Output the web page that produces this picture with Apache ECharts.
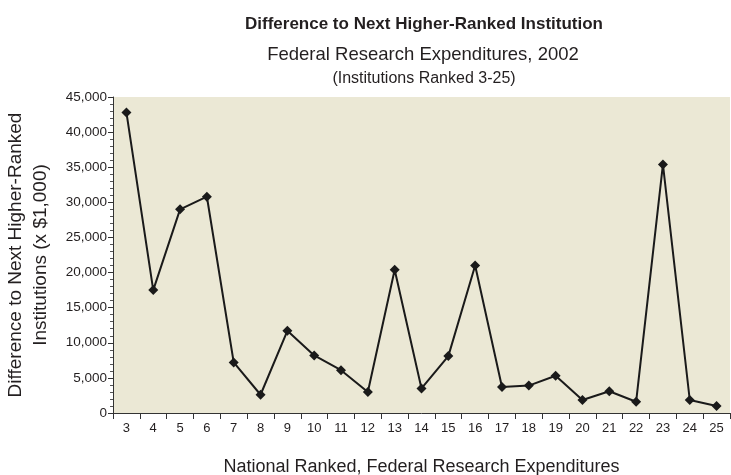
<!DOCTYPE html>
<html>
<head>
<meta charset="utf-8">
<script src="https://cdn.jsdelivr.net/npm/echarts@6/dist/echarts.min.js"></script>
<style>
html,body{margin:0;padding:0;background:#fff;}
#chart{width:731px;height:475px;}
</style>
</head>
<body>
<div id="chart"></div>
<script>
var ranks = ['3','4','5','6','7','8','9','10','11','12','13','14','15','16','17','18','19','20','21','22','23','24','25'];
var differences = [42800, 17500, 29000, 30800, 7200, 2600, 11700, 8200, 6100, 3000, 20400, 3500, 8100, 21000, 3700, 3900, 5300, 1850, 3100, 1600, 35400, 1850, 1000];
var yMin = 0, yMax = 45000, yStep = 5000;

var chart = echarts.init(document.getElementById('chart'), null, {renderer: 'canvas'});
var fontFam = 'Liberation Sans, Arial, sans-serif';
chart.setOption({
  animation: false,
  backgroundColor: '#ffffff',
  title: [
    {text: 'Difference to Next Higher-Ranked Institution', left: 419, top: 11, textAlign: 'center',
     textStyle: {fontFamily: fontFam, fontWeight: 'bold', fontSize: 17, color: '#231f20'}},
    {text: 'Federal Research Expenditures, 2002', left: 418, top: 40, textAlign: 'center',
     textStyle: {fontFamily: fontFam, fontWeight: 'normal', fontSize: 18.5, color: '#231f20'}},
    {text: '(Institutions Ranked 3-25)', left: 419, top: 66, textAlign: 'center',
     textStyle: {fontFamily: fontFam, fontWeight: 'normal', fontSize: 16, color: '#231f20'}}
  ],
  grid: {left: 113, right: 1, top: 97, bottom: 62, backgroundColor: '#ebe8d5', show: true, borderWidth: 0,
         containLabel: false, outerBoundsMode: 'none'},
  xAxis: {
    type: 'category',
    data: ranks,
    boundaryGap: true,
    name: 'National Ranked, Federal Research Expenditures',
    nameLocation: 'middle',
    nameGap: 45,
    nameTextStyle: {fontFamily: fontFam, fontSize: 18, color: '#231f20'},
    axisLine: {lineStyle: {color: '#333', width: 1}},
    axisTick: {show: true, inside: false, length: 6, alignWithLabel: false, lineStyle: {color: '#333'}},
    axisLabel: {fontFamily: fontFam, fontSize: 13, color: '#231f20', margin: 9, interval: 0},
    splitLine: {show: false}
  },
  yAxis: {
    type: 'value',
    min: yMin, max: yMax, interval: yStep,
    name: 'Difference to Next Higher-Ranked\nInstitutions (x $1,000)',
    nameLocation: 'middle',
    nameRotate: 90,
    nameGap: 60,
    nameTextStyle: {fontFamily: fontFam, fontSize: 19, color: '#231f20', lineHeight: 25},
    axisLine: {show: true, lineStyle: {color: '#333', width: 1}},
    axisTick: {show: true, inside: false, length: 5, lineStyle: {color: '#333'}},
    minorTick: {show: true, splitNumber: 5, length: 3, lineStyle: {color: '#555'}},
    axisLabel: {fontFamily: fontFam, fontSize: 13.5, color: '#231f20', margin: 6,
      formatter: function(v){ return v.toLocaleString('en-US'); }},
    splitLine: {show: false}
  },
  series: [{
    type: 'line',
    data: differences,
    symbol: 'diamond',
    symbolSize: 10,
    lineStyle: {color: '#1a1a1a', width: 2},
    itemStyle: {color: '#1a1a1a'}
  }]
});
</script>
</body>
</html>
